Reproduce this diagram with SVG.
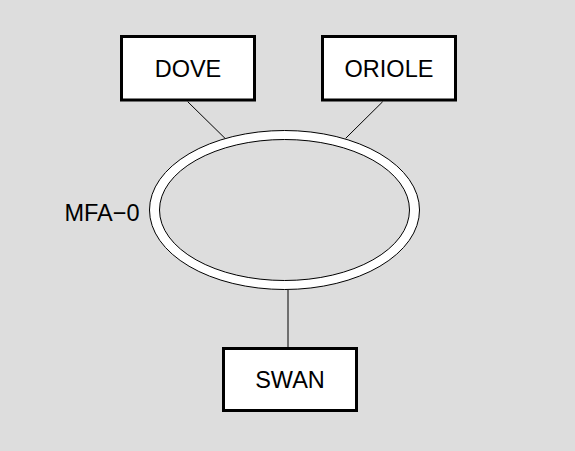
<svg xmlns="http://www.w3.org/2000/svg" width="575" height="451" viewBox="0 0 575 451">
<style>
.box{fill:#fff;stroke:#000;stroke-width:3}
.lbl{font-family:"Liberation Sans",Arial,sans-serif;font-size:23.5px;fill:#000}
.c{text-anchor:middle}
.ln{stroke:#000;stroke-width:1;fill:none}
</style>
<rect width="575" height="451" fill="#dddddd"/>
<g id="connectors">
<line class="ln" x1="187.7" y1="101.7" x2="225" y2="138.3"/>
<line class="ln" x1="382.7" y1="101.7" x2="345.7" y2="138.3"/>
<line class="ln" x1="288" y1="290" x2="288" y2="347"/>
</g>
<g id="MFA-0">
<ellipse cx="284.5" cy="210" rx="135" ry="79.5" fill="#fff" stroke="#000" stroke-width="1"/>
<ellipse cx="284.5" cy="210" rx="125" ry="70.5" fill="#dddddd" stroke="#000" stroke-width="1"/>
<text class="lbl" x="139.5" y="220.5" text-anchor="end">MFA−0</text>
</g>
<g id="DOVE">
<rect class="box" x="121.5" y="36.5" width="133" height="63.5"/>
<text class="lbl c" x="188" y="76.5">DOVE</text>
</g>
<g id="ORIOLE">
<rect class="box" x="322.5" y="36.5" width="133" height="63.5"/>
<text class="lbl c" x="389" y="76.5">ORIOLE</text>
</g>
<g id="SWAN">
<rect class="box" x="223.5" y="348.5" width="133" height="62"/>
<text class="lbl c" x="290" y="388">SWAN</text>
</g>
</svg>
